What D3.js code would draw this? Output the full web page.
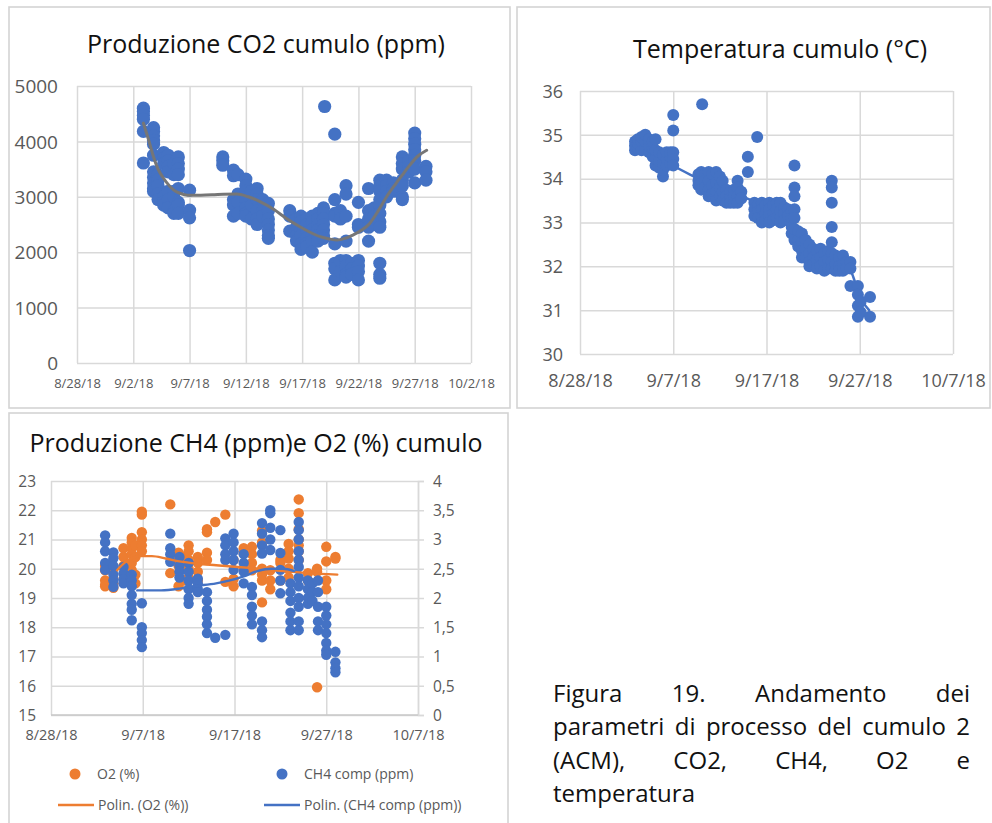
<!DOCTYPE html>
<html>
<head>
<meta charset="utf-8">
<script src="https://cdn.jsdelivr.net/npm/d3@7"></script>
<style>
  body { margin: 0; background: #fff; }
  svg { display: block; }
  text { font-family: "Open Sans", sans-serif; }
</style>
</head>
<body>
<svg id="fig" width="992" height="823"></svg>
<script>
// ---------- data ----------
// Readings grouped by September day (fractional = time of day) -> values taken that day.
const co2Readings = [
  [2.9, [4600, 4540, 4470, 4400, 4180, 3610]],
  [3.8, [4250, 4180, 4100, 4020, 3950, 3750, 3450, 3350, 3250, 3150, 3100]],
  [4.2, [3400, 3300, 3200, 3050, 2950]],
  [4.7, [3800, 3700, 3600, 3000, 2900, 2850]],
  [5.1, [3750, 3650, 3550, 3450, 3100, 2950, 2800]],
  [5.6, [3600, 3400, 3100, 3000, 2750, 2700]],
  [6.0, [3720, 3600, 3500, 3400, 3150, 2900, 2850, 2700]],
  [7.0, [3120, 2760, 2620, 2030]],
  [9.95, [3720, 3650, 3570]],
  [10.9, [3480, 3380, 2950, 2850, 2650]],
  [11.3, [3400, 3050, 2900, 2700]],
  [12.0, [3320, 3200, 3100, 2950, 2800, 2700, 2650]],
  [12.5, [3100, 2850, 2600]],
  [13.0, [3150, 3050, 2950, 2750, 2600, 2500]],
  [13.5, [2950, 2750, 2650]],
  [14.0, [2880, 2750, 2600, 2500, 2400, 2300, 2250]],
  [15.9, [2750, 2650, 2380]],
  [16.5, [2600, 2450, 2300, 2200]],
  [16.9, [2650, 2550, 2400, 2300, 2150, 2050]],
  [17.4, [2600, 2500, 2350, 2250, 2150, 2100]],
  [17.9, [2650, 2550, 2400, 2300, 2200, 2000]],
  [18.4, [2700, 2600, 2500, 2400, 2300, 2200]],
  [18.9, [2800, 2700, 2600, 2500, 2400, 2300, 2250]],
  [19.0, [4630]],
  [19.9, [4130, 2950, 2700, 2650, 2150, 1800, 1700, 1500]],
  [20.4, [2750, 2600, 1850, 1650]],
  [20.9, [3200, 3050, 2650, 2200, 1850, 1750, 1600, 1550]],
  [21.4, [1800, 1700, 1600]],
  [22.0, [2900, 2500, 2450, 1850, 1750, 1650, 1500]],
  [22.9, [3150, 2750, 2600, 2450, 2200]],
  [23.4, [2800, 2650, 2500]],
  [23.9, [3300, 3200, 3100, 2950, 2850, 2700, 2550, 2450, 1800, 1600, 1530]],
  [24.5, [3300, 3200, 3100, 3000]],
  [25.1, [3250, 3150, 3100]],
  [25.9, [3720, 3600, 3500, 3300, 3200, 3000, 2950]],
  [26.5, [3650, 3550, 3450]],
  [27.0, [4150, 4050, 3950, 3850, 3750, 3650, 3500, 3250]],
  [28.0, [3550, 3450, 3300]]
];
// polynomial trend of CO2 (day, ppm)
const co2Trend = [
  [2.9, 4330], [3.4, 4000], [3.8, 3720], [4.2, 3500], [4.7, 3330], [5.2, 3200],
  [5.6, 3120], [6.2, 3060], [6.8, 3030], [8, 3030], [9, 3035], [10, 3045],
  [11.2, 3050], [12.2, 3000], [13.3, 2910], [14.5, 2770], [15.6, 2610], [16.8, 2460],
  [17.7, 2360], [18.6, 2280], [19.4, 2240], [20.1, 2220], [20.8, 2250], [21.5, 2310],
  [22.3, 2400], [23.0, 2520], [23.8, 2760], [24.5, 3000], [25.3, 3230], [26.0, 3420],
  [26.6, 3580], [27.2, 3720], [28.06, 3840]
];
const co2YTicks = [0, 1000, 2000, 3000, 4000, 5000];
const co2XTicks = ["2018-08-28", "2018-09-02", "2018-09-07", "2018-09-12", "2018-09-17", "2018-09-22", "2018-09-27", "2018-10-02"];

const tempReadings = [
  [2.9, [34.65, 34.75, 34.85]],
  [3.2, [34.7, 34.8, 34.9]],
  [3.6, [34.65, 34.85, 34.95]],
  [4.0, [34.7, 34.85, 35.0]],
  [4.4, [34.6, 34.75, 34.9]],
  [4.8, [34.5, 34.7, 34.85]],
  [5.1, [34.3, 34.45, 34.65, 34.9]],
  [5.5, [34.25, 34.4, 34.6]],
  [5.9, [34.05, 34.2, 34.35, 34.55]],
  [6.3, [34.3, 34.45, 34.6]],
  [6.7, [34.35, 34.5, 34.6]],
  [7.0, [35.45, 35.1, 34.6, 34.45, 34.3]],
  [9.7, [34.1, 33.95, 33.85]],
  [10.0, [34.15, 33.9, 33.75]],
  [10.1, [35.7]],
  [10.4, [34.1, 33.95, 33.8]],
  [10.8, [34.15, 33.95, 33.75, 33.6]],
  [11.2, [34.1, 33.85, 33.65]],
  [11.6, [34.15, 33.9, 33.7, 33.5]],
  [12.0, [34.05, 33.8, 33.6]],
  [12.3, [33.95, 33.7, 33.5]],
  [12.7, [33.75, 33.6, 33.45]],
  [13.1, [33.7, 33.55, 33.45]],
  [13.5, [33.75, 33.6, 33.45]],
  [13.9, [33.95, 33.8, 33.6, 33.45]],
  [14.3, [33.7, 33.55]],
  [15.0, [34.5, 34.15]],
  [15.7, [33.45, 33.3, 33.15]],
  [16.0, [34.95]],
  [16.1, [33.4, 33.25, 33.1]],
  [16.5, [33.45, 33.3, 33.1, 33.0]],
  [16.9, [33.4, 33.2, 33.05]],
  [17.3, [33.45, 33.3, 33.15, 33.0]],
  [17.7, [33.4, 33.2, 33.05]],
  [18.1, [33.45, 33.3, 33.1]],
  [18.5, [33.45, 33.25, 33.1, 33.0]],
  [18.9, [33.35, 33.2, 33.05]],
  [19.3, [33.3, 33.15]],
  [19.7, [33.25, 33.1, 32.9, 32.75]],
  [20.0, [34.3, 33.8, 33.6, 33.3, 33.1, 32.85, 32.6]],
  [20.4, [32.8, 32.6, 32.45]],
  [20.8, [32.75, 32.55, 32.35, 32.2]],
  [21.2, [32.6, 32.4, 32.2]],
  [21.6, [32.5, 32.3, 32.1, 32.0]],
  [22.0, [32.4, 32.2, 32.05]],
  [22.4, [32.35, 32.15, 31.95]],
  [22.8, [32.4, 32.2, 32.0]],
  [23.2, [32.3, 32.1, 31.9]],
  [23.6, [32.35, 32.15, 31.95]],
  [24.0, [33.95, 33.8, 33.45, 32.9, 32.55, 32.3, 32.1, 31.95]],
  [24.4, [32.25, 32.05, 31.9]],
  [24.8, [32.2, 32.0, 31.9]],
  [25.2, [32.25, 32.05, 31.9]],
  [25.6, [32.1, 31.95]],
  [26.0, [32.1, 31.95, 31.55]],
  [26.8, [31.55, 31.35, 31.1, 30.85]],
  [27.1, [31.2, 30.95]],
  [28.1, [31.3, 30.85]]
];
const tempLine = [
  [3, 34.8], [5, 34.6], [7, 34.3], [9.7, 34.0], [12, 33.75], [14.3, 33.6], [16, 33.45],
  [19, 33.2], [20, 32.9], [22, 32.3], [24, 32.1], [26, 31.9], [27, 31.3], [28, 31.0]
];
const tempYTicks = [30, 31, 32, 33, 34, 35, 36];
const tempXTicks = ["2018-08-28", "2018-09-07", "2018-09-17", "2018-09-27", "2018-10-07"];

const o2Readings = [
  [2.9, [20.1, 19.95, 19.6, 19.45, 19.4]],
  [3.8, [19.65, 19.5, 19.35, 20.0]],
  [4.9, [20.7, 20.4, 20.1]],
  [5.8, [21.05, 20.9, 20.7, 20.5, 20.2, 19.95]],
  [6.2, [20.8, 20.4, 19.8, 19.5]],
  [6.9, [21.95, 21.85, 21.25, 21.0, 20.8, 20.6]],
  [10.0, [22.2, 19.85]],
  [10.9, [20.55, 20.35, 20.1, 19.4]],
  [11.4, [20.4, 20.0, 19.6]],
  [12.0, [20.8, 20.6, 20.3, 20.0, 19.7]],
  [13.0, [20.4, 20.2, 19.9, 19.6]],
  [14.0, [21.35, 21.25, 20.55, 20.3]],
  [14.9, [21.6]],
  [16.0, [21.85, 19.55]],
  [16.9, [19.4, 19.65, 20.3]],
  [18.0, [20.7, 20.55, 20.0]],
  [18.9, [20.75, 20.5, 20.2, 19.95]],
  [20.0, [21.3, 20.9, 20.0, 19.8, 19.6, 18.85]],
  [20.9, [19.95, 19.6, 19.3]],
  [22.0, [20.2, 20.3, 19.6]],
  [22.9, [20.85, 20.6, 20.35, 20.0, 19.7]],
  [24.0, [22.37, 21.9, 21.35, 21.0, 20.8, 20.6, 20.3]],
  [25.0, [19.85, 19.6]],
  [26.0, [19.9, 20.0, 15.95]],
  [27.0, [20.75, 20.25, 19.6, 19.3]],
  [28.0, [20.4, 20.35]]
];
const ch4Readings = [
  [2.9, [3.07, 2.95, 2.8, 2.6, 2.48]],
  [3.8, [2.78, 2.68, 2.55, 2.4, 2.3, 2.19]],
  [4.9, [2.53, 2.42, 2.32, 2.25]],
  [5.8, [2.4, 2.3, 2.2, 2.05, 1.9, 1.8, 1.62]],
  [6.9, [1.91, 1.5, 1.4, 1.28, 1.16]],
  [10.0, [3.1, 2.85, 2.75, 2.62]],
  [11.0, [2.7, 2.55, 2.45, 2.35]],
  [12.0, [2.6, 2.45, 2.3, 2.15, 2.0, 1.9]],
  [13.0, [2.33, 2.25, 2.15, 2.1]],
  [14.0, [2.1, 1.95, 1.8, 1.68, 1.55, 1.4]],
  [14.9, [1.32]],
  [16.0, [1.37, 3.02, 2.9, 2.75, 2.65]],
  [16.9, [3.1, 2.95, 2.8, 2.65, 2.48]],
  [18.0, [2.75, 2.6, 2.45, 2.25]],
  [18.9, [2.19, 2.05, 1.85, 1.7, 1.55]],
  [20.0, [3.28, 3.1, 2.9, 2.76, 1.6, 1.45, 1.33]],
  [20.9, [3.5, 3.45, 3.2, 3.0, 2.82]],
  [22.0, [3.16, 2.77, 2.48, 2.3, 2.08]],
  [23.1, [2.25, 2.1, 1.95, 1.75, 1.6, 1.45]],
  [24.0, [3.3, 3.16, 3.0, 2.8, 2.65, 2.53, 2.35, 2.2, 2.0, 1.85, 1.6, 1.45]],
  [25.0, [2.3, 2.15, 2.0, 1.9]],
  [25.5, [2.25, 2.1, 1.95]],
  [26.1, [2.3, 2.1, 1.85, 1.6, 1.45]],
  [27.0, [1.85, 1.7, 1.55, 1.4, 1.23, 1.1, 1.03]],
  [28.0, [1.08, 0.9, 0.8, 0.73]]
];
const o2Trend = [
  [4.2, 19.95], [5, 20.2], [5.8, 20.36], [6.8, 20.43], [8, 20.43], [9.5, 20.35],
  [11, 20.25], [13, 20.17], [15, 20.12], [17, 20.07], [19, 20.02], [21, 19.96],
  [23, 19.9], [25, 19.85], [28.2, 19.8]
];
const ch4Trend = [
  [6.4, 2.13], [9, 2.13], [11, 2.16], [12.5, 2.2], [15, 2.25], [16.5, 2.3],
  [18, 2.37], [19.5, 2.46], [21, 2.5], [22.3, 2.5], [23.5, 2.46]
];
const o2YTicks = [15, 16, 17, 18, 19, 20, 21, 22, 23];
const ch4YTicks = [0, 0.5, 1, 1.5, 2, 2.5, 3, 3.5, 4];
const gasXTicks = ["2018-08-28", "2018-09-07", "2018-09-17", "2018-09-27", "2018-10-07"];

const titles = ["Produzione CO2 cumulo (ppm)", "Temperatura cumulo (°C)", "Produzione CH4 (ppm)e O2 (%) cumulo"];
const legendLabels = ["O2 (%)", "CH4 comp (ppm)", "Polin. (O2 (%))", "Polin. (CH4 comp (ppm))"];
const captionLines = [
  ["Figura", "19.", "Andamento", "dei"],
  ["parametri", "di", "processo", "del", "cumulo", "2"],
  ["(ACM),", "CO2,", "CH4,", "O2", "e"],
  ["temperatura"]
];

// ---------- helpers ----------
const BLUE = "#4472C4", ORANGE = "#ED7D31", GRID = "#d9d9d9", LABEL = "#595959", TREND = "#767676";
const svg = d3.select("#fig");
const parseDay = d3.timeParse("%Y-%m-%d");
const fmtDay = d3.timeFormat("%-m/%-d/%y");
const commaFmt = d3.formatLocale({ decimal: ",", thousands: ".", grouping: [3], currency: ["", "€"] }).format("~g");
const sept = d => d3.timeMinute.offset(new Date(2018, 8, 1), Math.round((d - 1) * 1440));
const flatten = rows => rows.flatMap(([d, vals]) => vals.map(v => ({ date: sept(d), v })));
const trendPts = rows => rows.map(([d, v]) => ({ date: sept(d), v }));

function frame(x0, y0, x1, y1) {
  svg.append("rect").attr("x", x0).attr("y", y0).attr("width", x1 - x0).attr("height", y1 - y0)
    .attr("fill", "#fff").attr("stroke", "#d4d4d4").attr("stroke-width", 1.6);
}

function xGrid(g, x, ticks, box, labelOffset, fontSize) {
  const ax = g.append("g").attr("transform", `translate(0,${box.bottom})`)
    .call(d3.axisBottom(x).tickValues(ticks.map(parseDay)).tickFormat(fmtDay).tickSize(-(box.bottom - box.top)));
  ax.select(".domain").remove();
  ax.selectAll(".tick line").attr("stroke", GRID).attr("stroke-width", 1.5);
  ax.selectAll(".tick text").attr("y", labelOffset).attr("dy", "0.35em")
    .attr("fill", LABEL).style("font-size", fontSize + "px").style("font-family", "'Open Sans', sans-serif");
}

function yGrid(g, y, ticks, box, labelRight, fontSize, fmt) {
  const ax = g.append("g").attr("transform", `translate(${box.left},0)`)
    .call(d3.axisLeft(y).tickValues(ticks).tickFormat(fmt || d3.format("d")).tickSize(-(box.right - box.left)));
  ax.select(".domain").remove();
  ax.selectAll(".tick line").attr("stroke", GRID).attr("stroke-width", 1.5);
  ax.selectAll(".tick text").attr("x", labelRight - box.left).attr("dy", "0.35em")
    .attr("fill", LABEL).style("font-size", fontSize + "px").style("font-family", "'Open Sans', sans-serif");
}

function dots(g, data, x, y, r, color) {
  g.append("g").selectAll("circle").data(data).join("circle")
    .attr("cx", d => x(d.date)).attr("cy", d => y(d.v)).attr("r", r).attr("fill", color);
}

function trendLine(g, data, x, y, color, width) {
  g.append("path").datum(data)
    .attr("d", d3.line().x(d => x(d.date)).y(d => y(d.v)).curve(d3.curveMonotoneX))
    .attr("fill", "none").attr("stroke", color).attr("stroke-width", width).attr("stroke-linecap", "round");
}

function title(text, cx, baseline) {
  svg.append("text").attr("x", cx).attr("y", baseline).attr("text-anchor", "middle")
    .attr("fill", "#111").style("font-size", "25px").text(text);
}

// ---------- panel 1: CO2 ----------
frame(9, 7, 510, 408);
title(titles[0], 266, 53);
{
  const box = { left: 77, right: 471, top: 86, bottom: 363 };
  const x = d3.scaleTime().domain([parseDay(co2XTicks[0]), parseDay(co2XTicks[co2XTicks.length - 1])]).range([box.left, box.right]);
  const y = d3.scaleLinear().domain([0, 5000]).range([box.bottom, box.top]);
  const g = svg.append("g");
  xGrid(g, x, co2XTicks, box, 20, 13);
  yGrid(g, y, co2YTicks, box, 58, 19);
  dots(g, flatten(co2Readings), x, y, 6.6, BLUE);
  trendLine(g, trendPts(co2Trend), x, y, TREND, 3);
}

// ---------- panel 2: temperature ----------
frame(517, 7, 990, 408);
title(titles[1], 780, 58);
{
  const box = { left: 580, right: 953, top: 91, bottom: 354 };
  const x = d3.scaleTime().domain([parseDay(tempXTicks[0]), parseDay(tempXTicks[tempXTicks.length - 1])]).range([box.left, box.right]);
  const y = d3.scaleLinear().domain([30, 36]).range([box.bottom, box.top]);
  const g = svg.append("g");
  xGrid(g, x, tempXTicks, box, 27, 18);
  yGrid(g, y, tempYTicks, box, 563, 18);
  trendLine(g, trendPts(tempLine), x, y, BLUE, 2.5);
  dots(g, flatten(tempReadings), x, y, 6, BLUE);
}

// ---------- panel 3: CH4 and O2 ----------
frame(9, 413, 508, 830);
title(titles[2], 256, 452);
{
  const box = { left: 51, right: 418, top: 481, bottom: 715 };
  const x = d3.scaleTime().domain([parseDay(gasXTicks[0]), parseDay(gasXTicks[gasXTicks.length - 1])]).range([box.left, box.right]);
  const yL = d3.scaleLinear().domain([15, 23]).range([box.bottom, box.top]);
  const yR = d3.scaleLinear().domain([0, 4]).range([box.bottom, box.top]);
  const g = svg.append("g");
  xGrid(g, x, gasXTicks, box, 20, 14.5);
  yGrid(g, yL, o2YTicks, box, 36, 15.5);
  // secondary axis on the right
  const ar = g.append("g").attr("transform", `translate(${box.right},0)`)
    .call(d3.axisRight(yR).tickValues(ch4YTicks).tickFormat(commaFmt).tickSize(6));
  ar.select(".domain").attr("stroke", GRID).attr("stroke-width", 1.5);
  ar.selectAll(".tick line").attr("stroke", GRID).attr("stroke-width", 1.5);
  ar.selectAll(".tick text").attr("x", 15).attr("dy", "0.35em")
    .attr("fill", LABEL).style("font-size", "15.5px").style("font-family", "'Open Sans', sans-serif");
  g.append("line").attr("x1", box.left).attr("x2", box.right).attr("y1", box.bottom).attr("y2", box.bottom)
    .attr("stroke", "#c9c9c9").attr("stroke-width", 1.5);

  dots(g, flatten(o2Readings), x, yL, 5.2, ORANGE);
  dots(g, flatten(ch4Readings), x, yR, 5.2, BLUE);
  trendLine(g, trendPts(o2Trend), x, yL, ORANGE, 2.4);
  trendLine(g, trendPts(ch4Trend), x, yR, BLUE, 2.4);

  // legend
  const lg = svg.append("g").style("font-size", "14px").attr("fill", LABEL);
  const items = [
    { label: legendLabels[0], kind: "dot", color: ORANGE, x: 75, y: 774 },
    { label: legendLabels[1], kind: "dot", color: BLUE, x: 282, y: 774 },
    { label: legendLabels[2], kind: "line", color: ORANGE, x: 76, y: 805 },
    { label: legendLabels[3], kind: "line", color: BLUE, x: 282, y: 805 }
  ];
  items.forEach(it => {
    if (it.kind === "dot") {
      lg.append("circle").attr("cx", it.x).attr("cy", it.y).attr("r", 5.5).attr("fill", it.color);
    } else {
      lg.append("line").attr("x1", it.x - 18).attr("x2", it.x + 18).attr("y1", it.y).attr("y2", it.y)
        .attr("stroke", it.color).attr("stroke-width", 2.5);
    }
    lg.append("text").attr("x", it.x + 22).attr("y", it.y).attr("dy", "0.35em").attr("fill", LABEL).text(it.label);
  });
}

// ---------- caption (justified) ----------
{
  const x0 = 553, x1 = 970, base = 702, lead = 33.4;
  const t = svg.append("text").attr("fill", "#111").style("font-size", "24px");
  captionLines.forEach((words, i) => {
    const y = base + i * lead;
    const spans = words.map(w => t.append("tspan").attr("y", y).text(w));
    const widths = spans.map(s => s.node().getComputedTextLength());
    const last = i === captionLines.length - 1;
    const gap = last || words.length < 2 ? 6.3 : (x1 - x0 - d3.sum(widths)) / (words.length - 1);
    let cx = x0;
    spans.forEach((s, j) => { s.attr("x", cx); cx += widths[j] + gap; });
  });
}
</script>
</body>
</html>
